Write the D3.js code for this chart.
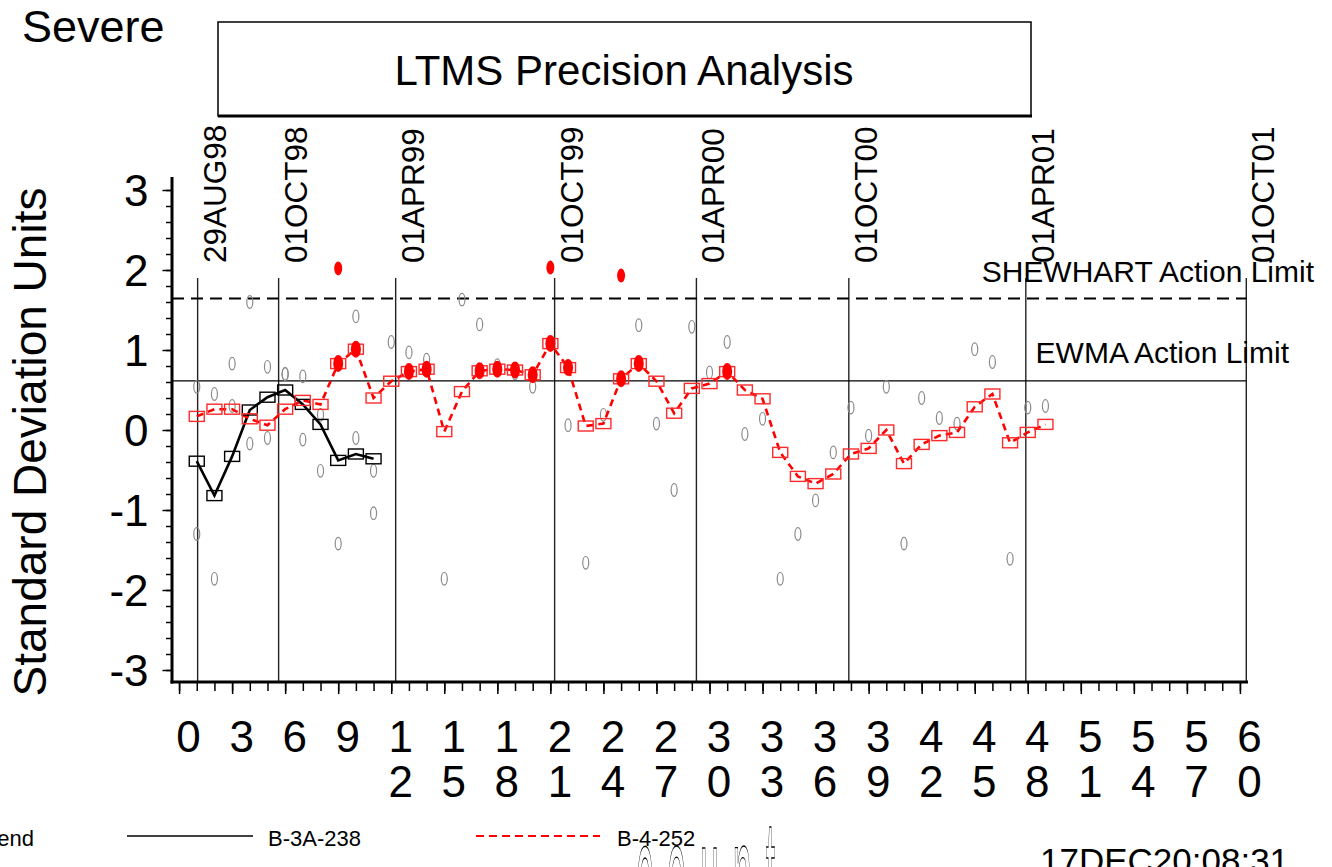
<!DOCTYPE html>
<html>
<head>
<meta charset="utf-8">
<script src="https://cdn.jsdelivr.net/npm/d3@7"></script>
<style>
  body { margin: 0; background: #fff; }
  svg { display: block; font-family: "Liberation Sans", Arial, sans-serif; }
  .axis path { display: none; }
  .axis line { stroke: #000; stroke-width: 1.5; }
</style>
</head>
<body>
<div id="chart"></div>
<script>
    var width = 1332,
        height = 867;

    // x = test count, y = standardized units
    var blackCount = [1, 2, 3, 4, 5, 6, 7, 8, 9, 10, 11];
    var blackEwma  = [-0.39, -0.82, -0.33, 0.25, 0.41, 0.50, 0.32, 0.07, -0.38, -0.30, -0.36];
    var blackIndiv = [-1.30, -1.86, 0.83, 1.60, 0.79, 0.70, -0.12, -0.51, -1.42, -0.10, -0.51];

    var redCount = [1, 2, 3, 4, 5, 6, 7, 8, 9, 10, 11, 12, 13, 14, 15, 16, 17, 18, 19, 20,
                    21, 22, 23, 24, 25, 26, 27, 28, 29, 30, 31, 32, 33, 34, 35, 36, 37, 38, 39, 40,
                    41, 42, 43, 44, 45, 46, 47, 48, 49];
    var redEwma = [0.17, 0.26, 0.26, 0.14, 0.06, 0.26, 0.37, 0.32, 0.83, 1.01,
                   0.40, 0.61, 0.73, 0.76, -0.02, 0.48, 0.74, 0.76, 0.75, 0.69,
                   1.08, 0.78, 0.05, 0.08, 0.64, 0.83, 0.61, 0.21, 0.52, 0.58,
                   0.73, 0.50, 0.39, -0.28, -0.58, -0.67, -0.55, -0.30, -0.23, 0.00,
                   -0.42, -0.18, -0.07, -0.03, 0.29, 0.45, -0.16, -0.03, 0.07];
    var redIndiv = [0.54, 0.45, 0.30, -0.17, -0.10, 0.70, 0.67, 0.19, 2.02, 1.42,
                    -1.04, 1.10, 0.97, 0.88, -1.86, 1.63, 1.32, 0.81, 0.71, 0.54,
                    2.03, 0.06, -1.66, 0.19, 1.93, 1.31, 0.08, -0.75, 1.29, 0.72,
                    1.10, -0.05, 0.14, -1.86, -1.30, -0.88, -0.28, 0.28, -0.07, 0.54,
                    -1.42, 0.40, 0.15, 0.08, 1.01, 0.85, -1.61, 0.28, 0.30];

    var dateLabels = ["29AUG98", "01OCT98", "01APR99", "01OCT99", "01APR00", "01OCT00", "01APR01", "01OCT01"];
    var datePos    = [1.05, 5.63, 12.25, 21.24, 29.26, 37.88, 47.89, 60.36];

    var shewhartLimit = 1.645;
    var ewmaLimit = 0.615;

    var xMajorTicks = [0, 3, 6, 9, 12, 15, 18, 21, 24, 27, 30, 33, 36, 39, 42, 45, 48, 51, 54, 57, 60];
    var yMajorTicks = [-3, -2, -1, 0, 1, 2, 3];

    var svg = d3.select("#chart").append("svg")
        .attr("width", width)
        .attr("height", height);

    var xScale = d3.scaleLinear().domain([-0.4, 60.4]).range([172, 1247]);
    var yScale = d3.scaleLinear().domain([-3.15, 3.15]).range([682, 178]);

    //header texts
    svg.append("text")
        .attr("x", 22).attr("y", 42)
        .style("font-size", "45px")
        .text("Severe");

    svg.append("rect")
        .attr("x", 218).attr("y", 22)
        .attr("width", 813).attr("height", 94)
        .attr("fill", "none")
        .attr("stroke", "#000")
        .attr("stroke-width", 1.5);
    svg.append("line")
        .attr("x1", 218).attr("x2", 1032)
        .attr("y1", 116).attr("y2", 116)
        .attr("stroke", "#000").attr("stroke-width", 3);

    svg.append("text")
        .attr("x", 624).attr("y", 85)
        .attr("text-anchor", "middle")
        .style("font-size", "42px")
        .text("LTMS Precision Analysis");

    svg.append("text")
        .attr("transform", "translate(46,442) rotate(-90)")
        .attr("text-anchor", "middle")
        .style("font-size", "46px")
        .text("Standard Deviation Units");

    //date reference lines
    datePos.forEach(function(p, i) {
        var x = xScale(p);
        svg.append("line")
            .attr("x1", x).attr("x2", x)
            .attr("y1", 278).attr("y2", 682)
            .attr("stroke", "#222")
            .attr("stroke-width", 1.4);
        svg.append("text")
            .attr("transform", "translate(" + (x + 28) + ",263) rotate(-90)")
            .style("font-size", "31.5px")
            .text(dateLabels[i]);
    });

    //limits
    svg.append("line")
        .attr("x1", 172).attr("x2", xScale(60.36))
        .attr("y1", yScale(shewhartLimit)).attr("y2", yScale(shewhartLimit))
        .attr("stroke", "#000")
        .attr("stroke-width", 2)
        .attr("stroke-dasharray", "12,7");
    svg.append("line")
        .attr("x1", 172).attr("x2", xScale(60.36))
        .attr("y1", yScale(ewmaLimit)).attr("y2", yScale(ewmaLimit))
        .attr("stroke", "#000")
        .attr("stroke-width", 1.3);

    svg.append("text")
        .attr("x", 1314).attr("y", 282)
        .attr("text-anchor", "end")
        .style("font-size", "30px")
        .text("SHEWHART Action Limit");
    svg.append("text")
        .attr("x", 1289).attr("y", 363)
        .attr("text-anchor", "end")
        .style("font-size", "30px")
        .text("EWMA Action Limit");

    //axes
    var yMinor = d3.range(-15, 16).map(function(k) { return k / 5; });
    svg.append("g")
        .attr("class", "axis")
        .attr("transform", "translate(171,0)")
        .call(d3.axisLeft(yScale).tickValues(yMinor).tickSize(5).tickFormat(""));
    var yAxisG = svg.append("g")
        .attr("class", "axis")
        .attr("transform", "translate(171,0)")
        .call(d3.axisLeft(yScale).tickValues(yMajorTicks).tickSize(8.5).tickPadding(14)
            .tickFormat(function(d) { return String(d); }));
    yAxisG.selectAll("text")
        .style("font-size", "44px")
        .style("font-family", "Liberation Sans, Arial, sans-serif")
        .attr("dy", "0.36em");

    var xMinor = d3.range(0, 61);
    svg.append("g")
        .attr("class", "axis")
        .attr("transform", "translate(0,683)")
        .call(d3.axisBottom(xScale).tickValues(xMinor).tickSize(8).tickFormat(""));
    var xAxisG = svg.append("g")
        .attr("class", "axis")
        .attr("transform", "translate(0,683)")
        .call(d3.axisBottom(xScale).tickValues(xMajorTicks).tickSize(11).tickFormat(""));
    xAxisG.selectAll(".tick").each(function(d) {
        var s = String(d);
        var t = d3.select(this).append("text")
            .attr("x", 9)
            .attr("fill", "#000")
            .attr("text-anchor", "middle")
            .style("font-size", "44px")
            .style("font-family", "Liberation Sans, Arial, sans-serif");
        s.split("").forEach(function(ch, k) {
            t.append("tspan").attr("x", 9).attr("y", 69 + k * 45).text(ch);
        });
    });

    svg.append("line")
        .attr("x1", 172).attr("x2", 172)
        .attr("y1", 177).attr("y2", 683.5)
        .attr("stroke", "#000").attr("stroke-width", 3);
    svg.append("line")
        .attr("x1", 170.5).attr("x2", 1248)
        .attr("y1", 682).attr("y2", 682)
        .attr("stroke", "#000").attr("stroke-width", 3);

    //individual results
    var plot = svg.append("g");
    function drawIndiv(counts, vals) {
        counts.forEach(function(c, i) {
            if (vals[i] > shewhartLimit) return;
            plot.append("ellipse")
                .attr("cx", xScale(c)).attr("cy", yScale(vals[i]))
                .attr("rx", 3).attr("ry", 6.3)
                .attr("fill", "none")
                .attr("stroke", "#8a8a8a")
                .attr("stroke-width", 1.2);
        });
    }
    drawIndiv(blackCount, blackIndiv);
    drawIndiv(redCount, redIndiv);

    var valueline = d3.line()
        .x(function(d) { return xScale(d[0]); })
        .y(function(d) { return yScale(d[1]); });

    var blackPts = blackCount.map(function(c, i) { return [c, blackEwma[i]]; });
    var redPts = redCount.map(function(c, i) { return [c, redEwma[i]]; });

    plot.append("path")
        .datum(blackPts)
        .attr("d", valueline)
        .attr("fill", "none")
        .attr("stroke", "#000")
        .attr("stroke-width", 2.6);

    plot.append("path")
        .datum(redPts)
        .attr("d", valueline)
        .attr("fill", "none")
        .attr("stroke", "#ff0000")
        .attr("stroke-width", 2.6)
        .attr("stroke-dasharray", "7,5");

    function drawSquares(pts, color) {
        plot.selectAll(null)
            .data(pts)
            .enter()
            .append("rect")
            .attr("x", function(d) { return xScale(d[0]) - 7.5; })
            .attr("y", function(d) { return yScale(d[1]) - 5; })
            .attr("width", 15).attr("height", 10)
            .attr("fill", "none")
            .attr("stroke", color)
            .attr("stroke-width", 1.4);
    }
    drawSquares(blackPts, "#000");
    drawSquares(redPts, "#ff2a2a");

    //flagged values
    redPts.forEach(function(d) {
        if (d[1] <= ewmaLimit) return;
        plot.append("ellipse")
            .attr("cx", xScale(d[0])).attr("cy", yScale(d[1]))
            .attr("rx", 5).attr("ry", 8.5)
            .attr("fill", "#ff0000");
    });
    redCount.forEach(function(c, i) {
        if (redIndiv[i] <= shewhartLimit) return;
        plot.append("ellipse")
            .attr("cx", xScale(c)).attr("cy", yScale(redIndiv[i]))
            .attr("rx", 4).attr("ry", 7)
            .attr("fill", "#ff0000");
    });

    //legend
    svg.append("text")
        .attr("x", 34).attr("y", 846)
        .attr("text-anchor", "end")
        .style("font-size", "22px")
        .text("Legend");
    svg.append("line")
        .attr("x1", 127).attr("x2", 253)
        .attr("y1", 836).attr("y2", 836)
        .attr("stroke", "#000").attr("stroke-width", 1.5);
    svg.append("text")
        .attr("x", 268).attr("y", 846)
        .style("font-size", "22px")
        .text("B-3A-238");
    svg.append("line")
        .attr("x1", 476).attr("x2", 600)
        .attr("y1", 836).attr("y2", 836)
        .attr("stroke", "#ff0000").attr("stroke-width", 2)
        .attr("stroke-dasharray", "8,5");
    svg.append("text")
        .attr("x", 617).attr("y", 846)
        .style("font-size", "22px")
        .text("B-4-252");

    //axis label, stretched and cut by the page edge
    svg.append("text")
        .attr("transform", "translate(636,938) scale(0.2,1)")
        .style("font-size", "170px")
        .style("letter-spacing", "70px")
        .attr("fill", "none")
        .attr("stroke", "#000")
        .attr("stroke-width", 1)
        .attr("vector-effect", "non-scaling-stroke")
        .text("count");

    svg.append("text")
        .attr("x", 1040).attr("y", 873)
        .style("font-size", "35px")
        .text("17DEC20:08:31");
</script>
</body>
</html>
